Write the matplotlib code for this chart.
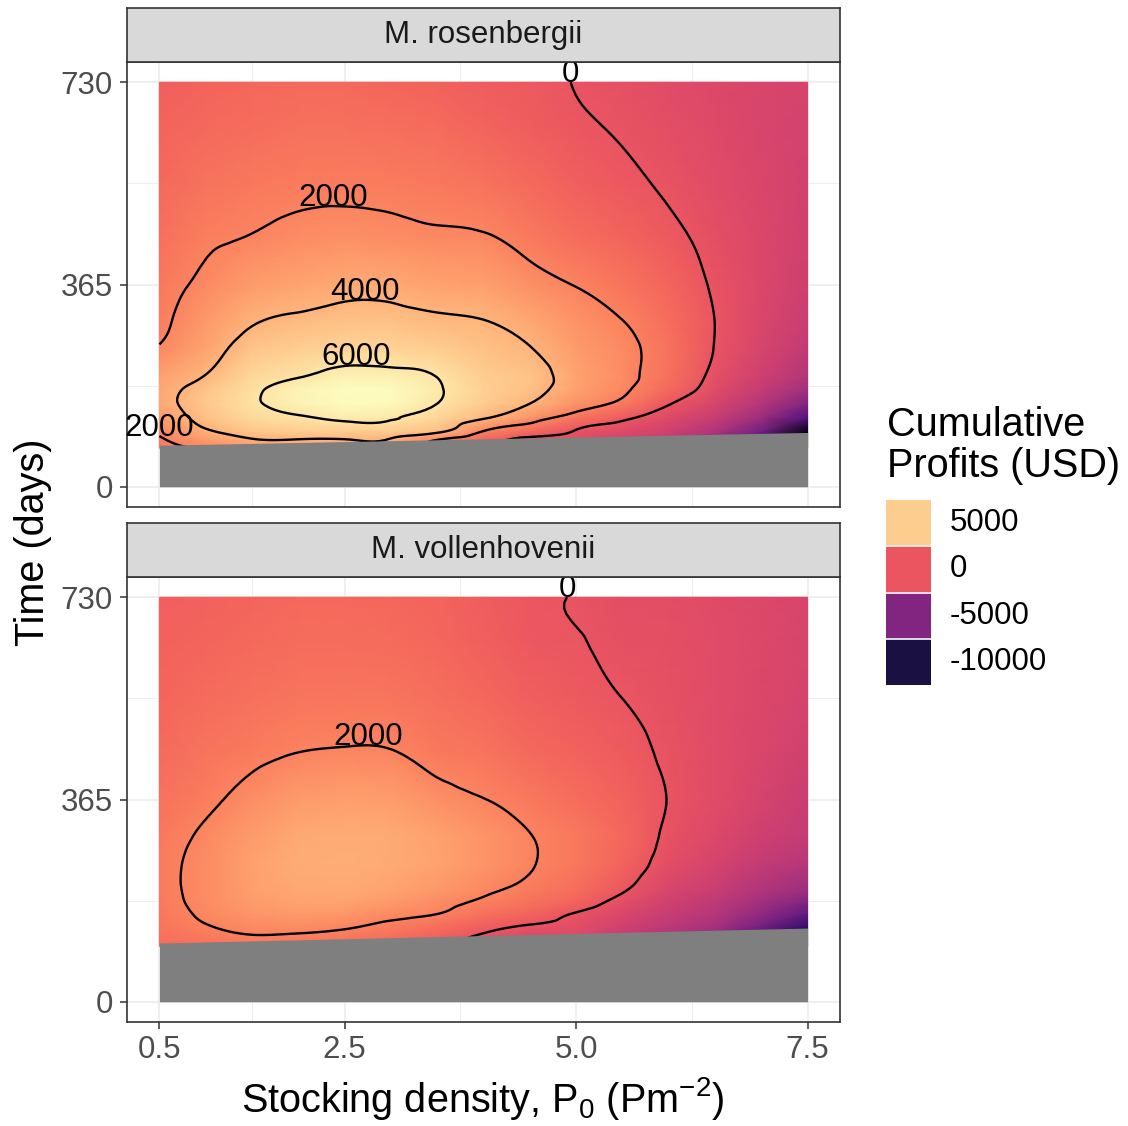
import numpy as np
import matplotlib
matplotlib.use("Agg")
import matplotlib.pyplot as plt
import matplotlib.tri as mtri
from matplotlib.colors import Normalize
from matplotlib.path import Path

plt.rcParams["font.family"] = ["Liberation Sans", "DejaVu Sans"]
plt.rcParams["mathtext.fontset"] = "custom"
plt.rcParams["mathtext.rm"] = "Liberation Sans"

# stocking density (P m^-2); every profit list below is one column at this density
density = [0.5, 1.0, 1.5, 2.0, 2.5, 3.0, 3.5, 4.0, 4.5, 5.0, 5.5, 6.0, 6.5, 7.0, 7.5]

# M. rosenbergii, cumulative profits (USD) at days_ros
days_ros = [70, 85, 100, 125, 150, 175, 200, 250, 300, 365, 450, 550, 650, 730]
profit_ros = [
    [1500, 1800, 2300, 3000, 3400, 3450, 3200, 2100, 1750, 1500, 1200, 900, 700, 500],
    [2200, 3000, 3800, 4500, 4800, 4600, 4050, 3300, 2800, 2300, 1800, 1300, 950, 700],
    [3000, 3900, 4700, 5500, 5800, 5750, 5400, 4600, 3850, 3000, 2050, 1500, 1100, 850],
    [3400, 3950, 5000, 5900, 6500, 6550, 5900, 5000, 4250, 3300, 2400, 1650, 1200, 900],
    [3300, 3950, 5000, 6250, 6900, 7000, 6500, 5200, 4450, 3550, 2500, 1700, 1250, 900],
    [3200, 3850, 4900, 6150, 6800, 6900, 6400, 5200, 4450, 3500, 2400, 1650, 1150, 800],
    [1200, 2050, 4400, 5400, 6000, 6200, 5950, 4900, 4200, 3200, 2200, 1500, 1000, 650],
    [-500, 800, 1950, 4200, 4900, 5100, 4900, 4500, 4020, 3100, 2100, 1300, 700, 420],
    [-1500, -400, 900, 2700, 4000, 4500, 4600, 4050, 3400, 2500, 1600, 900, 370, 220],
    [-1500, -500, -100, 1400, 2600, 3200, 3300, 3000, 2600, 1950, 1100, 500, 120, -30],
    [-2500, -1200, -700, 350, 1700, 2200, 2350, 2300, 2010, 1400, 700, 200, -100, -300],
    [-3000, -2000, -1400, -700, 100, 900, 1200, 1300, 1100, 750, 250, -150, -400, -550],
    [-5000, -3800, -2900, -1800, -1100, -600, -300, -40, -10, -150, -330, -550, -700, -800],
    [-9000, -7500, -5800, -3800, -2700, -2000, -1500, -1100, -950, -900, -900, -950, -1000, -1000],
    [-14000, -13000, -11500, -7300, -5000, -3600, -2800, -2100, -1700, -1500, -1400, -1300, -1250, -1200],
]
start_ros = [75, 98]   # no harvest before this day (grey), at density 0.5 and 7.5

# M. vollenhovenii
days_vol = [100, 120, 140, 160, 180, 200, 250, 300, 365, 450, 550, 650, 730]
profit_vol = [
    [1100, 1300, 1450, 1550, 1620, 1650, 1650, 1550, 1300, 1000, 800, 650, 550],
    [1300, 1650, 1990, 2200, 2330, 2400, 2400, 2200, 1750, 1350, 1000, 800, 650],
    [1500, 1980, 2400, 2750, 2950, 3100, 3200, 3000, 2450, 1700, 1200, 950, 800],
    [1400, 1900, 2500, 2950, 3250, 3450, 3650, 3500, 3000, 2000, 1400, 1050, 900],
    [1100, 1650, 2300, 2850, 3250, 3500, 3750, 3650, 3150, 2100, 1400, 1050, 900],
    [700, 1200, 1800, 2400, 2900, 3250, 3600, 3550, 3050, 2060, 1350, 1000, 850],
    [200, 700, 1300, 2050, 2400, 2800, 3250, 3200, 2500, 1600, 1150, 850, 700],
    [-1000, -150, 600, 1300, 1800, 2200, 2700, 2650, 2030, 1350, 850, 550, 400],
    [-1500, -700, 30, 800, 1300, 1650, 2080, 2030, 1500, 900, 450, 200, 100],
    [-1800, -600, -350, -50, 700, 1100, 1500, 1500, 1100, 600, 250, 60, -50],
    [-2500, -1800, -1300, -900, -450, 100, 700, 850, 650, 300, -10, -250, -400],
    [-3500, -2800, -2200, -1800, -1400, -1100, -450, -200, -30, -150, -300, -380, -450],
    [-4800, -4000, -3200, -2600, -2200, -1800, -1200, -800, -600, -550, -580, -600, -630],
    [-8000, -6800, -5500, -4300, -3500, -2900, -2000, -1500, -1150, -950, -850, -820, -820],
    [-12000, -10500, -8300, -6500, -5200, -3900, -2600, -2000, -1700, -1400, -1200, -1100, -1000],
]
start_vol = [106, 133]

species = ["M. rosenbergii", "M. vollenhovenii"]
levels = [0, 2000, 4000, 6000]
legend_breaks = [5000, 0, -5000, -10000]
x_breaks = [0.5, 2.5, 5.0, 7.5]
x_labels = ["0.5", "2.5", "5.0", "7.5"]
y_breaks = [0, 365, 730]

W, H = 1128, 1126
fig = plt.figure(figsize=(W / 100, H / 100), dpi=100)
cmap = plt.get_cmap("magma")
norm = Normalize(-12300, 7000)
dark = "#333333"


def fx(px):
    return px / W


def fy(py):
    return 1 - py / H


def smooth_tri(X, T, Z):
    # triangulate in scaled units so the grid cells are not squashed,
    # then let matplotlib refine the field for smoother contour lines
    sx, st = 7.0, 730.0
    tri = mtri.Triangulation(X.ravel() / sx, T.ravel() / st)
    interp = mtri.CubicTriInterpolator(tri, Z.ravel(), kind="min_E")
    fine, zf = mtri.UniformTriRefiner(tri).refine_field(Z.ravel(), triinterpolator=interp, subdiv=3)
    return mtri.Triangulation(fine.x * sx, fine.y * st, fine.triangles), zf


# (panel top, panel bottom) in pixels; strips sit on top of each panel
panels = [(62, 507), (577, 1022)]
strip_h = 54
data = [(days_ros, profit_ros, start_ros), (days_vol, profit_vol, start_vol)]

for i, name in enumerate(species):
    top, bot = panels[i]
    days, prof, start = data[i]
    ax = fig.add_axes([fx(127), fy(bot), fx(840) - fx(127), (bot - top) / H])
    X, T = np.meshgrid(density, days)
    Z = np.array(prof, dtype=float).T
    ax.pcolormesh(X, T, Z, shading="gouraud", cmap=cmap, norm=norm, zorder=1)
    tri_f, z_f = smooth_tri(X, T, Z)
    cs = ax.tricontour(tri_f, z_f, levels=levels, colors="black", linewidths=1.7, zorder=2)
    ax.fill_between([density[0], density[-1]], 0, start, color="#7F7F7F", lw=0, zorder=3)

    # one label at the top of every visible contour piece
    for lev, path in zip(cs.levels, cs.get_paths()):
        v = path.vertices
        if len(v) == 0:
            continue
        codes = path.codes
        cuts = [0] if codes is None else list(np.where(codes == Path.MOVETO)[0])
        cuts.append(len(v))
        for s, e in zip(cuts[:-1], cuts[1:]):
            seg = v[s:e]
            floor = np.interp(seg[:, 0], [density[0], density[-1]], start)
            ok = seg[:, 1] > floor + 3
            if ok.sum() < 3:
                continue
            k = np.argmax(np.where(ok, seg[:, 1], -1))
            ax.text(seg[k, 0], seg[k, 1], f"{int(lev)}", ha="center", va="baseline",
                    fontsize=22.5, color="black", zorder=5, clip_on=False)

    ax.set_xlim(0.15, 7.85)
    ax.set_ylim(-36.5, 766.5)
    ax.set_xticks(x_breaks)
    ax.set_xticks([1.5, 3.75, 6.25], minor=True)
    ax.set_yticks(y_breaks)
    ax.set_yticks([182.5, 547.5], minor=True)
    ax.set_axisbelow(True)
    ax.grid(which="major", color="#EBEBEB", lw=1.1)
    ax.grid(which="minor", color="#EBEBEB", lw=0.6)
    ax.tick_params(which="minor", length=0)
    ax.tick_params(axis="y", which="major", length=5, width=1.1, color=dark,
                   labelsize=22.5, labelcolor="#4D4D4D", pad=5)
    if i == 0:
        ax.tick_params(axis="x", which="major", length=0, labelbottom=False)
    else:
        ax.set_xticklabels(x_labels)
        ax.tick_params(axis="x", which="major", length=5, width=1.1, color=dark,
                       labelsize=22.5, labelcolor="#4D4D4D", pad=4)
    for sp in ax.spines.values():
        sp.set_color(dark)
        sp.set_linewidth(1.2)

    sax = fig.add_axes([fx(127), fy(top), fx(840) - fx(127), strip_h / H])
    sax.set_facecolor("#D9D9D9")
    sax.set_xticks([])
    sax.set_yticks([])
    for sp in sax.spines.values():
        sp.set_color(dark)
        sp.set_linewidth(1.2)
    sax.text(0.5, 0.5, name, ha="center", va="center", fontsize=22.5,
             color="#1A1A1A", transform=sax.transAxes)

fig.text(fx(33), fy(542), "Time (days)", rotation=90, ha="center", va="center",
         fontsize=28.5)
fig.text(fx(483), fy(1099), r"Stocking density, $\mathregular{P_0}$ (Pm$\mathregular{^{-2}}$)",
         ha="center", va="center", fontsize=28.5)

# legend
fig.text(fx(887), fy(406), "Cumulative\nProfits (USD)", ha="left", va="top",
         fontsize=28.5, linespacing=1.1)
kax = fig.add_axes([fx(886), fy(685), 45 / W, 185 / H])
kax.imshow(np.array(legend_breaks, dtype=float)[:, None], cmap=cmap, norm=norm,
           aspect="auto")
for yb in [0.5, 1.5, 2.5]:
    kax.axhline(yb, color="white", lw=1.2)
kax.axis("off")
for j, b in enumerate(legend_breaks):
    kax.text(0.5 + 19 / 45, j, f"{b}", ha="left", va="center", fontsize=22.5,
             color="black", clip_on=False)

fig.savefig("out.png", dpi=100)
